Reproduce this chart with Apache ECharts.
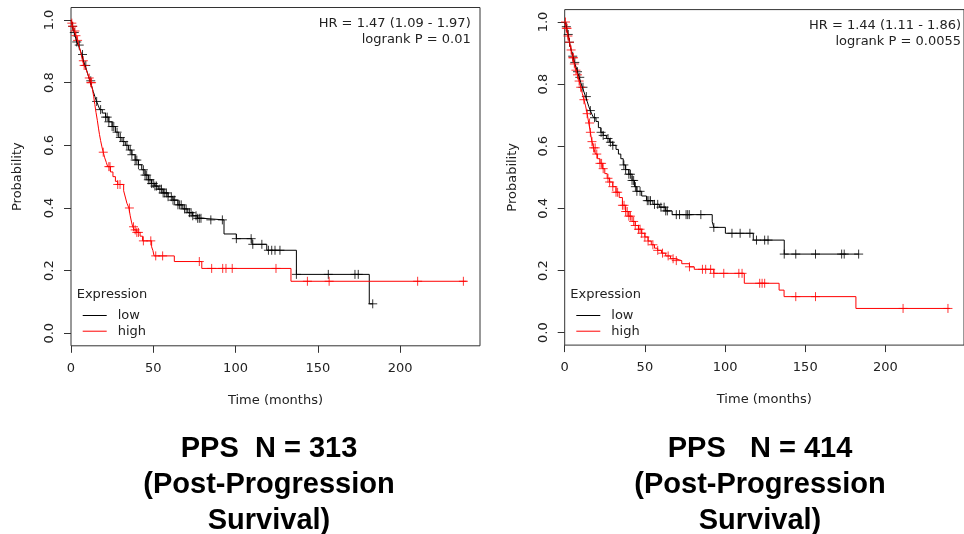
<!DOCTYPE html>
<html>
<head>
<meta charset="utf-8">
<script src="https://cdn.jsdelivr.net/npm/echarts@6/dist/echarts.min.js"></script>
<style>
  html, body { margin: 0; padding: 0; background: #fff; }
  #chart { width: 964px; height: 534px; }
</style>
</head>
<body>
<div id="chart"></div>
<script>
// tick values
const timeTicks = [0, 50, 100, 150, 200];
const probTicks = [0, 0.2, 0.4, 0.6, 0.8, 1.0];

// left panel (N = 313), low expression: event times and survival after each step
const leftLowT = [0, 0.5, 1, 1.5, 2, 2.5, 3, 3.5, 4.5, 5.5, 6.5, 7.5, 8.5, 9.5, 10.5, 11.5, 12.5, 13.5, 14.5, 15.5,
  16.5, 17.5, 19, 21, 23, 25, 27, 29, 31, 33, 35, 37, 39, 41, 43, 45, 47, 49, 51, 53, 56, 59, 62, 65, 68, 71, 74, 77,
  80, 93, 100.5, 110, 119, 137, 181.3, 183.4];
const leftLowS = [1.0, 0.99, 0.98, 0.97, 0.96, 0.95, 0.94, 0.93, 0.92, 0.905, 0.89, 0.87, 0.855, 0.84, 0.822, 0.806, 0.79, 0.772, 0.756, 0.74,
  0.728, 0.714, 0.703, 0.69, 0.675, 0.66, 0.642, 0.625, 0.612, 0.6, 0.585, 0.57, 0.553, 0.538, 0.522, 0.505, 0.49, 0.478, 0.47, 0.46, 0.448, 0.436, 0.425, 0.41, 0.397, 0.385, 0.375, 0.367,
  0.362, 0.317, 0.302, 0.284, 0.265, 0.188, 0.094, 0.094];
const leftLowCens = [1, 2, 3.5, 5, 7, 9, 12, 15.6, 18, 21, 22, 23, 25, 26, 28, 30, 32, 34, 36, 37, 39, 40, 41, 44, 45, 46,
  47, 48, 49, 50, 51, 52, 54, 55, 56, 57, 58, 59, 61, 62, 63, 65, 66, 67, 69, 70, 72, 73, 74, 76, 77, 78, 79, 85, 92,
  100.5, 109.5, 110.5, 116, 120, 122, 124, 127, 137, 156.4, 172.6, 174.6, 183.4];

// left panel, high expression
const leftHighT = [0, 0.5, 1, 2, 3, 4, 5, 6, 7, 8, 9, 10, 11, 12, 13, 13.8, 14.5, 15.2, 16, 16.7, 17.3, 18, 18.8, 19.6,
  20.5, 21.5, 22.3, 24, 25.5, 27, 28.4, 32, 33, 34, 35.2, 36, 36.8, 37.5, 38.5, 40, 42, 43.5, 49, 49.8, 50.5, 62.8,
  79.5, 133.7, 240.5];
const leftHighS = [1.0, 0.99, 0.98, 0.965, 0.95, 0.935, 0.915, 0.895, 0.87, 0.855, 0.845, 0.83, 0.815, 0.8, 0.78, 0.755, 0.73, 0.705, 0.68, 0.655, 0.635, 0.615, 0.595, 0.578,
  0.56, 0.545, 0.532, 0.515, 0.5, 0.485, 0.475, 0.455, 0.435, 0.415, 0.4, 0.375, 0.355, 0.34, 0.33, 0.322, 0.31, 0.295, 0.276, 0.264, 0.247, 0.229,
  0.207, 0.166, 0.166];
const leftHighCens = [0.5, 1, 2.4, 3, 4, 7.5, 8, 11.1, 12, 12.5, 19.6, 23, 23.7, 28.4, 29.8, 35.5, 38, 39, 40, 41, 44,
  48.5, 51.5, 55.7, 78, 85.5, 92.2, 94.2, 98, 124.6, 143.7, 156.9, 210.7, 238.5];

// right panel (N = 414), low expression
const rightLowT = [0, 1, 2, 3, 4, 5, 6, 7, 8, 9, 10, 11, 12, 13, 14, 15, 16, 17, 18, 19.5, 21, 22.5, 24, 26, 28, 30, 32,
  33.5, 35, 36.5, 38, 40, 42, 43.5, 45, 48, 51, 55, 59, 63, 67, 92, 93, 100.2, 117.6, 136.9, 183.3];
const rightLowS = [1.0, 0.985, 0.96, 0.935, 0.91, 0.89, 0.87, 0.855, 0.84, 0.822, 0.805, 0.79, 0.775, 0.76, 0.745, 0.728, 0.715, 0.703, 0.692, 0.68, 0.66, 0.645, 0.635, 0.625, 0.613, 0.603, 0.59,
  0.575, 0.56, 0.54, 0.525, 0.51, 0.49, 0.47, 0.455, 0.44, 0.425, 0.413, 0.404, 0.392, 0.38, 0.357, 0.339, 0.32, 0.298, 0.253, 0.253];
const rightLowCens = [1, 2.2, 3, 5, 6.3, 8, 9.4, 11.4, 13.5, 16, 18.6, 22.7, 24, 27, 28.5, 30, 36.9, 38, 40, 41, 42, 43,
  44.1, 45, 47, 51.5, 52.5, 53.5, 56, 58, 60, 62, 63, 64, 69.6, 71.6, 75.7, 76.7, 77.7, 84.9, 93, 104.3, 109.4, 115.5,
  119.6, 124.7, 126.8, 136.9, 144.1, 156.4, 172.7, 174.3, 183.3];

// right panel, high expression
const rightHighT = [0, 1, 2, 3, 4, 5, 6, 7, 8, 9, 10, 11, 12, 13, 14, 15, 16, 17, 18, 19.2, 20.5, 22, 23.5, 25, 26.5, 28,
  30, 32, 34, 36, 38, 40, 42, 44, 46, 48, 50, 52, 54, 56, 58, 60.4, 63, 66, 69, 73, 77.8, 80.8, 93, 112, 133.7, 136.8,
  181.6, 240.2];
const rightHighS = [1.0, 0.98, 0.955, 0.935, 0.91, 0.885, 0.865, 0.845, 0.83, 0.81, 0.79, 0.77, 0.75, 0.73, 0.705, 0.675, 0.645, 0.615, 0.595, 0.575, 0.56, 0.545, 0.528, 0.512, 0.497, 0.485,
  0.47, 0.452, 0.435, 0.41, 0.39, 0.375, 0.358, 0.345, 0.333, 0.32, 0.308, 0.295, 0.283, 0.272, 0.265, 0.256, 0.247, 0.238, 0.232, 0.222, 0.212, 0.204, 0.191, 0.159, 0.137, 0.116,
  0.078, 0.078];
const rightHighCens = [0.5, 1, 1.5, 2, 3, 4, 5, 5.5, 6, 7, 8, 9, 10, 12, 14, 15.5, 16, 17, 18, 19, 20, 22, 23, 24, 27, 28,
  30, 32, 33, 36, 37, 38, 39, 40, 41, 43, 44, 46, 47, 48, 50, 52, 55, 58, 61, 64.5, 67.6, 69.6, 77.8, 85.9, 87.9, 91,
  93, 99.2, 108.6, 110.6, 121.6, 123.1, 124.7, 144.1, 156.4, 211, 239];

const FONT = 'DejaVu Sans';
const LOW_COLOR = '#000000';
const HIGH_COLOR = '#ff0000';
const PLUS = 'path://M0,5 L10,5 M5,0 L5,10';

function stepAt(ts, ss, t) {
  let v = ss[0];
  for (let i = 0; i < ts.length; i++) {
    if (ts[i] <= t) v = ss[i];
  }
  return v;
}

function curve(name, ts, ss, color, idx) {
  return {
    name: name,
    type: 'line',
    step: 'end',
    xAxisIndex: idx,
    yAxisIndex: idx,
    symbol: 'none',
    data: ts.map((t, i) => [t, ss[i]]),
    lineStyle: { color: color, width: 1 },
    itemStyle: { color: color },
    silent: true
  };
}

function censors(name, ts, ss, cens, color, idx) {
  return {
    name: name + ' censored',
    type: 'scatter',
    xAxisIndex: idx,
    yAxisIndex: idx,
    symbol: PLUS,
    symbolSize: 9,
    data: cens.map(t => [t, stepAt(ts, ss, t)]),
    itemStyle: { color: 'none', borderColor: color, borderWidth: 1 },
    silent: true
  };
}

function xAxis(idx, max) {
  return {
    gridIndex: idx,
    type: 'value',
    min: 0,
    max: max,
    name: 'Time (months)',
    nameLocation: 'middle',
    nameGap: 48,
    nameTextStyle: { fontFamily: FONT, fontSize: 13, color: '#222' },
    splitLine: { show: false },
    axisLine: { show: false, onZero: false },
    axisTick: { show: true, customValues: timeTicks, length: 7, lineStyle: { color: '#333' } },
    axisLabel: { customValues: timeTicks, margin: 16, fontFamily: FONT, fontSize: 13, color: '#222' }
  };
}

function yAxis(idx, gap) {
  return {
    gridIndex: idx,
    type: 'value',
    min: -0.04,
    max: 1.04,
    name: 'Probability',
    nameLocation: 'middle',
    nameGap: gap,
    nameTextStyle: { fontFamily: FONT, fontSize: 13, color: '#222' },
    splitLine: { show: false },
    axisLine: { show: false, onZero: false },
    axisTick: { show: true, customValues: probTicks, length: 7, lineStyle: { color: '#333' } },
    axisLabel: {
      customValues: probTicks, rotate: 90, margin: 15,
      fontFamily: FONT, fontSize: 13, color: '#222',
      formatter: v => v.toFixed(1)
    }
  };
}

function legend(left) {
  return {
    data: ['low', 'high'],
    orient: 'vertical',
    left: left,
    top: 309,
    padding: 0,
    icon: 'rect',
    itemWidth: 24,
    itemHeight: 1,
    itemGap: 2.7,
    selectedMode: false,
    formatter: name => '{t|' + name + '}',
    textStyle: {
      fontFamily: FONT, fontSize: 13, color: '#222',
      rich: { t: { fontFamily: FONT, fontSize: 13, color: '#222', padding: [0, 0, 0, 6] } }
    }
  };
}

function label(text, x, y, align) {
  return {
    type: 'text', x: x, y: y, silent: true,
    style: { text: text, fontFamily: FONT, fontSize: 13, fill: '#222', align: align, verticalAlign: 'middle' }
  };
}

function panelTitle(text, x) {
  return {
    type: 'text', x: x, y: 431, silent: true,
    style: {
      text: text, fontFamily: 'Liberation Sans', fontWeight: 'bold', fontSize: 29,
      lineHeight: 36, fill: '#000', align: 'center', verticalAlign: 'top'
    }
  };
}

const chart = echarts.init(document.getElementById('chart'));

const option = {
  animation: false,
  backgroundColor: '#fff',
  grid: [
    { left: 71, top: 7.5, width: 409, height: 338.3, show: true, borderColor: '#333', borderWidth: 1 },
    { left: 564.7, top: 9.6, width: 406.6, height: 335.5, show: true, borderColor: '#333', borderWidth: 1 }
  ],
  xAxis: [xAxis(0, 248.6), xAxis(1, 249)],
  yAxis: [yAxis(0, 47), yAxis(1, 46)],
  legend: [legend(82.7), legend(576.3)],
  graphic: [
    label('HR = 1.47 (1.09 - 1.97)', 470.7, 24, 'right'),
    label('logrank P = 0.01', 470.7, 39.5, 'right'),
    label('HR = 1.44 (1.11 - 1.86)', 961, 25.7, 'right'),
    label('logrank P = 0.0055', 961, 41.5, 'right'),
    label('Expression', 76.7, 294.3, 'left'),
    label('Expression', 570.3, 294.3, 'left'),
    panelTitle('PPS  N = 313\n(Post-Progression\nSurvival)', 269),
    panelTitle('PPS   N = 414\n(Post-Progression\nSurvival)', 760)
  ],
  series: [
    curve('low', leftLowT, leftLowS, LOW_COLOR, 0),
    curve('high', leftHighT, leftHighS, HIGH_COLOR, 0),
    censors('low', leftLowT, leftLowS, leftLowCens, LOW_COLOR, 0),
    censors('high', leftHighT, leftHighS, leftHighCens, HIGH_COLOR, 0),
    curve('low', rightLowT, rightLowS, LOW_COLOR, 1),
    curve('high', rightHighT, rightHighS, HIGH_COLOR, 1),
    censors('low', rightLowT, rightLowS, rightLowCens, LOW_COLOR, 1),
    censors('high', rightHighT, rightHighS, rightHighCens, HIGH_COLOR, 1)
  ]
};

chart.setOption(option);
</script>
</body>
</html>
